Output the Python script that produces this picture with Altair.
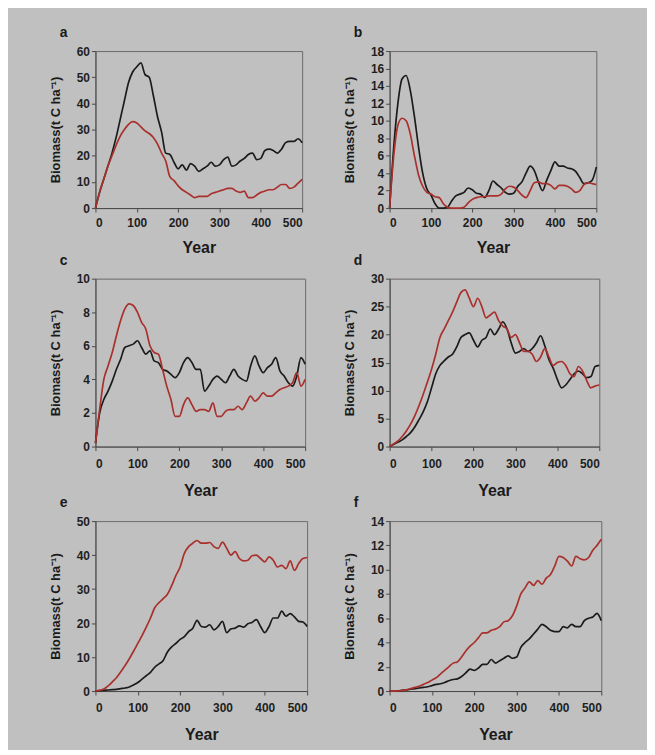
import altair as alt
import pandas as pd

years = list(range(0, 501, 10))

a_black = [0, 6, 11, 16, 21, 27, 34, 41, 48, 52, 54, 55.5, 51, 50, 43, 35, 29, 21, 20.5, 17.5,
           15, 16.5, 14.5, 17, 16, 14, 15, 16, 17.5, 16, 16.5, 18.5, 19.5, 16, 16.5, 18, 19, 20.5,
           21, 18.5, 19, 22, 22.5, 22, 21, 22.5, 25, 25.5, 25.5, 26.5, 25]
a_red = [0, 6, 11, 16, 20, 24, 27.5, 30, 32, 33, 32.5, 31, 29.5, 28.5, 27, 24.5, 21, 18, 12, 10.5,
         8.5, 7, 6, 5, 4, 4.5, 4.5, 4.5, 5.5, 6, 6.5, 7, 7.5, 7.5, 6.5, 6, 6.5, 4, 4, 5,
         6, 6.5, 7, 7, 8, 9, 9, 7.5, 8, 9.5, 11]

b_black = [0, 7, 12, 14.8, 15.2, 13.5, 10.5, 7, 4, 2.2, 1.5, 0.5, 0, 0, 0.1, 0.8, 1.4, 1.6, 1.8, 2.3,
           2.1, 1.7, 1.6, 1.2, 2, 3.1, 2.7, 2.3, 1.8, 1.6, 1.7, 2.5, 3, 4, 4.8, 4.3, 3, 2, 3.2, 4.3,
           5.3, 4.8, 4.8, 4.6, 4.5, 4.2, 3.5, 2.8, 2.9, 3.2, 4.7]
b_red = [0, 6, 9.5, 10.3, 10, 8.5, 6, 3.8, 2.5, 1.8, 1.6, 1.3, 1.2, 0.5, 0.1, 0, 0, 0, 0.1, 0.6,
         1, 1.2, 1.3, 1.3, 1.4, 1.4, 1.4, 1.6, 2.2, 2.5, 2.4, 2, 1.5, 1.2, 2, 2.9, 3, 2.8, 2.8, 2.6,
         2.2, 2.6, 2.6, 2.5, 2.2, 1.8, 2, 2.7, 2.9, 2.8, 2.7]

c_black = [0.2, 2, 2.8, 3.3, 3.9, 4.6, 5.2, 5.9, 6, 6.1, 6.3, 5.9, 5.5, 5.7, 5.1, 5, 4.6, 4.5, 4.3, 4.1,
           4.4, 5, 5.3, 5, 4.6, 4.6, 3.3, 3.6, 4, 4.2, 4, 3.8, 4.2, 4.6, 4.2, 4, 3.9, 4.8, 5.4, 4.8,
           4.4, 4.7, 4.9, 5.3, 4.5, 4.2, 3.8, 3.6, 4.2, 5.3, 4.9]
c_red = [0.2, 2.2, 4, 4.8, 5.6, 6.6, 7.5, 8.2, 8.5, 8.4, 8, 7.4, 7, 6, 5.6, 5.5, 4.6, 3.6, 2.8, 1.8,
         1.8, 2.5, 2.9, 2.5, 2.1, 2.2, 2.2, 2.1, 2.6, 1.8, 1.8, 2.1, 2.2, 2.2, 2.4, 2.2, 2.6, 3, 2.7, 2.9,
         3.2, 3, 3, 3.2, 3.4, 3.5, 3.6, 3.8, 4.4, 3.6, 4]

d_black = [0, 0.4, 0.8, 1.2, 1.8, 2.5, 3.5, 4.8, 6.2, 8, 10.5, 13, 14.5, 15.3, 16, 16.5, 17.8, 19.5, 20, 20.3,
           19, 17.8, 19, 19.5, 21, 20, 21, 22.3, 21, 18.5, 16.7, 17, 17.5, 17, 17.5, 18.5, 19.8, 18, 15.5, 14,
           12, 10.5, 11, 12, 13, 13.5, 13, 12.3, 12.5, 14.3, 14.5]
d_red = [0, 0.5, 1, 1.8, 2.8, 4, 5.5, 7.3, 9.3, 11.5, 13.8, 16.5, 19.5, 21, 22.5, 24, 25.8, 27.5, 28, 26.5,
         25, 26.5, 25, 23, 23.5, 24, 22.5, 21.5, 21, 19.5, 20, 18.5, 17, 17, 16.5, 15.2, 16, 17.5, 16, 14.5,
         15, 15.2, 14.5, 13, 12.5, 14.3, 13.5, 11.8, 10.5, 10.8, 11]

e_black = [0, 0.1, 0.2, 0.3, 0.4, 0.5, 0.7, 0.9, 1.2, 1.8, 2.5, 3.5, 4.5, 5.5, 7, 8, 9, 11.5, 13, 14,
           15.2, 16, 17.5, 18.5, 20.8, 19, 18.8, 19.5, 18, 19, 20.5, 17.2, 18.3, 18.5, 19.2, 18.8, 19.8, 20.2, 21, 19,
           17.2, 19, 21.5, 21.5, 23.5, 22, 22.8, 21.8, 20.5, 20.3, 19]
e_red = [0, 0.2, 0.6, 1.5, 2.7, 4, 5.7, 7.5, 9.5, 11.7, 14, 16.3, 18.8, 21.5, 24.5, 26, 27.2, 28.5, 31, 34,
         36.5, 40.5, 42.5, 43.5, 44.3, 43.5, 43.5, 43.7, 42.5, 42, 43.8, 42, 40, 41, 39, 38.3, 38.5, 39.8, 40, 39,
         38, 39.5, 38.5, 36.5, 37, 36, 38.3, 35.5, 37.5, 39, 39.3]

f_black = [0, 0, 0, 0.05, 0.1, 0.15, 0.2, 0.25, 0.3, 0.35, 0.45, 0.55, 0.6, 0.7, 0.85, 0.95, 1, 1.2, 1.5, 1.8,
           1.7, 1.9, 2.2, 2.2, 2.6, 2.3, 2.5, 2.7, 2.9, 2.7, 2.8, 3.6, 4, 4.3, 4.7, 5.1, 5.5, 5.3, 5, 4.9,
           4.9, 5.3, 5.2, 5.5, 5.3, 5.3, 5.8, 6, 6.1, 6.4, 5.8]
f_red = [0, 0, 0.02, 0.05, 0.1, 0.2, 0.3, 0.4, 0.55, 0.7, 0.9, 1.1, 1.4, 1.7, 2, 2.3, 2.4, 2.8, 3.3, 3.7,
         4, 4.4, 4.8, 4.8, 5, 5.1, 5.3, 5.7, 5.8, 6.2, 7, 8, 8.5, 9, 8.7, 9.1, 8.8, 9.3, 9.6, 10.3,
         11.1, 11, 10.7, 10.3, 11.1, 10.9, 10.8, 11, 11.6, 12, 12.5]

panels = [
    ("a", a_black, a_red, 60, 10, 208, 158),
    ("b", b_black, b_red, 18, 2, 208, 158),
    ("c", c_black, c_red, 10, 2, 211, 169),
    ("d", d_black, d_red, 30, 5, 211, 169),
    ("e", e_black, e_red, 50, 10, 213, 171),
    ("f", f_black, f_red, 14, 2, 213, 171),
]

BLACK = "#1b1b1b"
RED = "#a9302c"
BG = "#c0c0c0"

charts = []
for i, (letter, blk, red, ymax, ystep, w, h) in enumerate(panels):
    df = pd.DataFrame({
        "Year": years * 2,
        "Biomass": blk + red,
        "Series": ["black"] * len(years) + ["red"] * len(years),
    })
    extra = 0 if i < 2 else 2
    ch = alt.Chart(df).mark_line(strokeWidth=1.7, interpolate="monotone").encode(
        x=alt.X("Year:Q", title="Year",
                scale=alt.Scale(domain=[0, 500], nice=False),
                axis=alt.Axis(values=[0, 100, 200, 300, 400, 500], grid=False,
                              labelPadding=6 + extra, titlePadding=11 + extra)),
        y=alt.Y("Biomass:Q", title="Biomass(t C ha\u207b\u00b9)",
                scale=alt.Scale(domain=[0, ymax], nice=False),
                axis=alt.Axis(values=list(range(0, ymax + 1, ystep)), grid=False,
                              titlePadding=14)),
        color=alt.Color("Series:N", scale=alt.Scale(domain=["black", "red"], range=[BLACK, RED]),
                        legend=None),
    ).properties(
        width=w, height=h,
        title=alt.TitleParams(text=letter, anchor="start", frame="group", dx=-36,
                              offset=5, fontSize=14, fontWeight="bold", color="#1a1a1a",
                              font="Liberation Sans"),
    )
    charts.append(ch)

chart = alt.concat(*charts, columns=2, spacing={"row": -4, "column": 32}).properties(
    background=BG,
    padding={"left": 41, "top": 15, "right": 42, "bottom": 4},
).configure_view(
    stroke="#6a6a6a", strokeWidth=1, fill=None,
).configure_axis(
    labelFont="Liberation Sans", titleFont="Liberation Sans",
    labelFontWeight="bold", titleFontWeight="bold",
    labelFontSize=12, labelColor="#1e1e1e", titleColor="#1a1a1a",
    domainColor="#4a4a4a", tickColor="#4a4a4a", tickSize=4,
).configure_axisX(
    titleFontSize=16,
).configure_axisY(
    titleFontSize=13,
)

chart.save("out.html", embed_options={"renderer": "svg", "actions": False})
